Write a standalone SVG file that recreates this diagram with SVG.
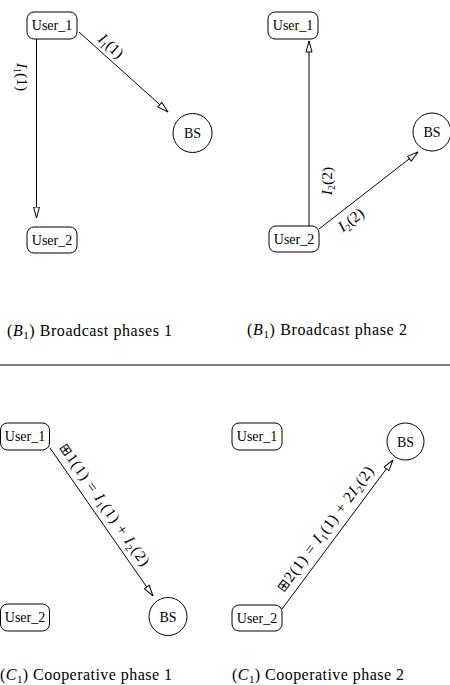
<svg xmlns="http://www.w3.org/2000/svg" width="450" height="685" viewBox="0 0 450 685">
<style>
.box{fill:#fff;stroke:#000;stroke-width:1}
.nt{font-family:"Liberation Serif","Times New Roman",serif;font-size:14px;fill:#000;text-anchor:middle}
.lbl{font-family:"Liberation Serif","Times New Roman",serif;font-size:15.5px;fill:#000;text-anchor:middle}
.cap{font-family:"Liberation Serif","DejaVu Serif",serif;font-size:16px;fill:#000}
.it{font-style:italic}
.sq{font-family:"DejaVu Sans",sans-serif;font-size:14px}
.edge{stroke:#000;stroke-width:1;fill:none;marker-end:url(#arr)}
</style>
<defs>
<marker id="arr" viewBox="0 0 12 8" refX="11.5" refY="4" markerWidth="12" markerHeight="8" markerUnits="userSpaceOnUse" orient="auto">
<path d="M0.5,1 L11.5,4 L0.5,7 Z" fill="#fff" stroke="#000" stroke-width="1"/>
</marker>
</defs>
<rect width="450" height="685" fill="#fff"/>

<g id="connectors">
<line class="edge" x1="36.5" y1="39" x2="36.5" y2="218"/>
<line class="edge" x1="79" y1="32" x2="168" y2="112"/>
<line class="edge" x1="309" y1="226" x2="309" y2="41" stroke="#555"/>
<line class="edge" x1="319" y1="229" x2="418" y2="152"/>
<line class="edge" x1="50" y1="448" x2="153" y2="596"/>
<line class="edge" x1="282" y1="609" x2="393" y2="460"/>
</g>

<g id="edge-labels">
<text class="lbl" transform="translate(22,77) rotate(90)" y="5"><tspan class="it">I</tspan><tspan font-size="10" dy="3">1</tspan><tspan dy="-3">(1)</tspan></text>
<text class="lbl" transform="translate(111,46) rotate(42.2)" y="5"><tspan class="it">I</tspan><tspan font-size="10" dy="3">1</tspan><tspan dy="-3">(1)</tspan></text>
<text class="lbl" transform="translate(327,181) rotate(-90)" y="5"><tspan class="it">I</tspan><tspan font-size="10" dy="3">2</tspan><tspan dy="-3">(2)</tspan></text>
<text class="lbl" transform="translate(351,220) rotate(-37.4)" y="5"><tspan class="it">I</tspan><tspan font-size="10" dy="3">2</tspan><tspan dy="-3">(2)</tspan></text>
<text class="lbl" transform="translate(104.5,504.5) rotate(55.1)" y="5" textLength="146"><tspan class="sq">⊞</tspan>1(1) = <tspan class="it">I</tspan><tspan font-size="10" dy="3">1</tspan><tspan dy="-3">(1) + </tspan><tspan class="it">I</tspan><tspan font-size="10" dy="3">2</tspan><tspan dy="-3">(2)</tspan></text>
<text class="lbl" transform="translate(325,529) rotate(-53.4)" y="5" textLength="152"><tspan class="sq">⊞</tspan>2(1) = <tspan class="it">I</tspan><tspan font-size="10" dy="3">1</tspan><tspan dy="-3">(1) + 2</tspan><tspan class="it">I</tspan><tspan font-size="10" dy="3">2</tspan><tspan dy="-3">(2)</tspan></text>
</g>

<g id="b1p1-user1"><rect class="box" x="27" y="12" width="50" height="27" rx="7"/><text class="nt" x="52" y="30">User_1</text></g>
<g id="b1p1-user2"><rect class="box" x="27" y="227" width="50" height="26" rx="7"/><text class="nt" x="52" y="245">User_2</text></g>
<g id="b1p1-bs"><circle class="box" cx="192.5" cy="133" r="19.5"/><text class="nt" x="192.5" y="138">BS</text></g>

<g id="b1p2-user1"><rect class="box" x="268" y="12" width="50" height="27" rx="7"/><text class="nt" x="293" y="30">User_1</text></g>
<g id="b1p2-user2"><rect class="box" x="269" y="226" width="50" height="26" rx="7"/><text class="nt" x="294" y="244">User_2</text></g>
<g id="b1p2-bs"><circle class="box" cx="432" cy="132" r="19"/><text class="nt" x="432" y="137">BS</text></g>

<g id="c1p1-user1"><rect class="box" x="0.5" y="423" width="49" height="27" rx="7"/><text class="nt" x="25" y="441">User_1</text></g>
<g id="c1p1-user2"><rect class="box" x="0.5" y="604" width="49" height="27" rx="7"/><text class="nt" x="25" y="622">User_2</text></g>
<g id="c1p1-bs"><circle class="box" cx="168" cy="616.5" r="19"/><text class="nt" x="168" y="621.5">BS</text></g>

<g id="c1p2-user1"><rect class="box" x="232" y="423" width="50" height="27" rx="7"/><text class="nt" x="257" y="441">User_1</text></g>
<g id="c1p2-user2"><rect class="box" x="232" y="605" width="50" height="26" rx="7"/><text class="nt" x="257" y="623">User_2</text></g>
<g id="c1p2-bs"><circle class="box" cx="405.5" cy="441.5" r="18.5"/><text class="nt" x="405.5" y="446.5">BS</text></g>

<g id="captions">
<text class="cap" x="7" y="336" textLength="165">(<tspan class="it">B</tspan><tspan font-size="11" dy="3">1</tspan><tspan dy="-3">) Broadcast phases 1</tspan></text>
<text class="cap" x="247" y="335" textLength="160">(<tspan class="it">B</tspan><tspan font-size="11" dy="3">1</tspan><tspan dy="-3">) Broadcast phase 2</tspan></text>
<text class="cap" x="0" y="680" textLength="172">(<tspan class="it">C</tspan><tspan font-size="11" dy="3">1</tspan><tspan dy="-3">) Cooperative phase 1</tspan></text>
<text class="cap" x="232" y="680" textLength="172">(<tspan class="it">C</tspan><tspan font-size="11" dy="3">1</tspan><tspan dy="-3">) Cooperative phase 2</tspan></text>
</g>

<line id="separator" x1="0" y1="365" x2="450" y2="365" stroke="#000" stroke-width="1"/>
</svg>
